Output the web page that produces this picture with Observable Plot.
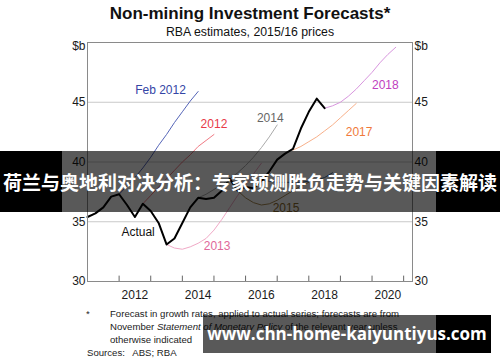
<!DOCTYPE html>
<html><head><meta charset="utf-8">
<script src="https://cdn.jsdelivr.net/npm/d3@7"></script>
<script src="https://cdn.jsdelivr.net/npm/@observablehq/plot@0.6"></script>
<style>
body{margin:0;background:#fff;}
#wrap{position:relative;width:500px;height:362px;overflow:hidden;font-family:"Liberation Sans",Arial,sans-serif;color:#111;}
#chart svg{position:absolute;left:0;top:0;}
.t{position:absolute;white-space:nowrap;}
.note{font-size:9.6px;color:#222;line-height:13px;}
</style></head><body>
<div id="wrap">
<div id="chart"></div>
<div class="t" style="left:0;width:500px;text-align:center;top:4px;font-weight:bold;font-size:17px;">Non-mining Investment Forecasts*</div>
<div class="t" style="left:0;width:500px;text-align:center;top:25px;font-size:12.3px;">RBA estimates, 2015/16 prices</div>
<div class="t note" style="left:86px;top:307px;">*</div>
<div class="t note" style="left:110px;top:307px;">Forecast in growth rates, applied to actual series; forecasts are from<br>November <i>Statement of Monetary Policy</i> of the relevant year unless<br>otherwise indicated</div>
<div class="t note" style="left:87px;top:346px;">Sources:&nbsp;&nbsp; ABS; RBA</div>
<div class="t" style="left:0;top:151px;width:500px;height:61px;background:rgba(0,0,0,0.65);"></div>
<div class="t" style="left:0;top:151px;width:62px;height:61px;background:#000;"></div>
<div class="t" style="left:436px;top:151px;width:64px;height:61px;background:#000;"></div>
<div class="t" style="left:0;top:151px;width:500px;height:61px;line-height:61px;text-align:center;color:#fff;font-family:'Noto Sans CJK SC',sans-serif;font-weight:bold;font-size:19px;">荷兰与奥地利对决分析：专家预测胜负走势与关键因素解读</div>
<div class="t" style="left:203px;top:315px;width:233px;height:38px;background:rgba(0,0,0,0.65);"></div>
<div class="t" style="left:436px;top:315px;width:55px;height:38px;background:#000;"></div>
<div class="t" style="left:203px;top:315px;width:288px;height:38px;line-height:38px;text-align:center;color:#fff;font-family:'Open Sans',sans-serif;font-weight:bold;font-size:17px;">www.chn-home-kaiyuntiyus.com</div>
</div>
<script>
// ---- data (values in $b, quarterly, starting at the given year) ----
const actualStart = 2011.0;
const actual = [35.4,35.7,36.2,37.1,37.3,36.4,35.4,36.5,35.9,34.9,33.1,33.6,34.9,36.2,37.0,36.9,37.0,37.6,38.6,37.6,37.9,37.8,38.4,39.2,40.2,40.7,41.1,42.8,44.2,45.3,44.5];
const feb2012Start = 2012.0;
const feb2012 = [37.3,38.0,38.7,39.5,40.4,41.4,42.3,43.3,44.2,45.1,45.9];
const f2012Start = 2012.75;
const f2012 = [36.5,37.2,37.9,38.6,39.3,40.0,40.6,41.3,41.8,42.3];
const f2013Start = 2013.5;
const f2013 = [33.1,32.8,32.7,32.9,33.2,33.6,34.3,35.2,36.2,37.2,38.1,39.0,39.9];
const f2014Start = 2014.5;
const f2014 = [37.0,37.3,37.7,38.1,38.6,39.1,39.7,40.4,41.2,42.1,43.1];
const f2015Start = 2015.75;
const f2015 = [37.6,37.0,36.6,36.4,36.5,36.8,37.2,37.6,38.0,38.3];
const f2016Start = 2016.5;
const f2016 = [38.4,38.4,38.3,38.3,38.3,38.3,38.4,38.5,38.7,39.1];
const f2017Start = 2017.5;
const f2017 = [41.0,41.3,41.7,42.1,42.6,43.1,43.7,44.3,44.9];
const f2018Start = 2018.5;
const f2018 = [44.5,44.7,45.0,45.5,46.1,46.8,47.5,48.3,49.0,49.6];

const yTicks = [30,35,40,45];
const yearTicks = [2012,2013,2014,2015,2016,2017,2018,2019,2020,2021];
const yearLabels = [2012,2014,2016,2018,2020];

const seriesNames = ["Feb 2012","2012","2013","2014","2015","2016","2017","2018","Actual"];
const labelNames = ["Feb 2012","2012","2013","2014","2015","2017","2018","Actual"];
const labelT = [2013.31,2015.0,2015.1,2016.78,2017.28,2019.59,2020.42,2012.6];
const labelV = [46.0,43.15,32.97,43.65,36.11,42.52,46.4,34.1];

// ---- styles ----
const lineColor = {"Feb 2012":"#5565b8","2012":"#f07a84","2013":"#f0a9c6","2014":"#aaaaaa","2015":"#a88a52","2016":"#3d6a98","2017":"#f8b08a","2018":"#d896de","Actual":"#000"};
const textColor = {"Feb 2012":"#3446a6","2012":"#e83a48","2013":"#e0689a","2014":"#666","2015":"#8a6a2c","2017":"#f07a3a","2018":"#c040c0","Actual":"#111"};

const mk = (start, vals, s) => vals.map((v,i)=>({t:start+i*0.25, v, s}));
const seriesData = {
  "Actual": mk(actualStart, actual, "Actual"),
  "Feb 2012": mk(feb2012Start, feb2012, "Feb 2012"),
  "2012": mk(f2012Start, f2012, "2012"),
  "2013": mk(f2013Start, f2013, "2013"),
  "2014": mk(f2014Start, f2014, "2014"),
  "2015": mk(f2015Start, f2015, "2015"),
  "2016": mk(f2016Start, f2016, "2016"),
  "2017": mk(f2017Start, f2017, "2017"),
  "2018": mk(f2018Start, f2018, "2018")
};
const labels = labelNames.map((n,i)=>({n, t:labelT[i], v:labelV[i]}));

const axisCommon = {tickSize:0, fontSize:12, tickFormat: d=>d, label:null};
const plot = Plot.plot({
  width:500, height:362,
  marginLeft:87, marginRight:88, marginTop:42, marginBottom:81,
  x:{domain:[2011,2021.28], label:null},
  y:{domain:[30,50], label:null},
  style:{fontFamily:"Liberation Sans, Arial, sans-serif", fontSize:"12px", color:"#1a1a1a", background:"transparent"},
  marks:[
    Plot.ruleY([35,40,45], {stroke:"#c9c9c9", strokeWidth:1}),
    Plot.ruleX(yearTicks, {y1:30, y2:30.45, stroke:"#666", strokeWidth:1}),
    ...seriesNames.map(n => Plot.line(seriesData[n], {x:"t", y:"v", stroke:lineColor[n], strokeWidth: n==="Actual"?2:1, curve:"linear"})),
    Plot.text(labels, {x:"t", y:"v", text:"n", fill:d=>textColor[d.n], fontSize:12}),
    Plot.frame({stroke:"#8a8a8a"}),
    Plot.axisY({anchor:"left", ticks:yTicks, ...axisCommon, tickPadding:2}),
    Plot.axisY({anchor:"right", ticks:yTicks, ...axisCommon, tickPadding:2}),
    Plot.axisY({anchor:"left", ticks:[50], tickSize:0, tickPadding:2, fontSize:12, tickFormat:()=>"$b", dy:4, label:null}),
    Plot.axisY({anchor:"right", ticks:[50], tickSize:0, tickPadding:2, fontSize:12, tickFormat:()=>"$b", dy:4, label:null}),
    Plot.axisX({ticks:yearLabels.map(y=>y+0.5), tickSize:0, tickPadding:9, fontSize:12, tickFormat:d=>String(Math.floor(d)), label:null})
  ]
});
document.getElementById("chart").appendChild(plot);
</script>
</body></html>
